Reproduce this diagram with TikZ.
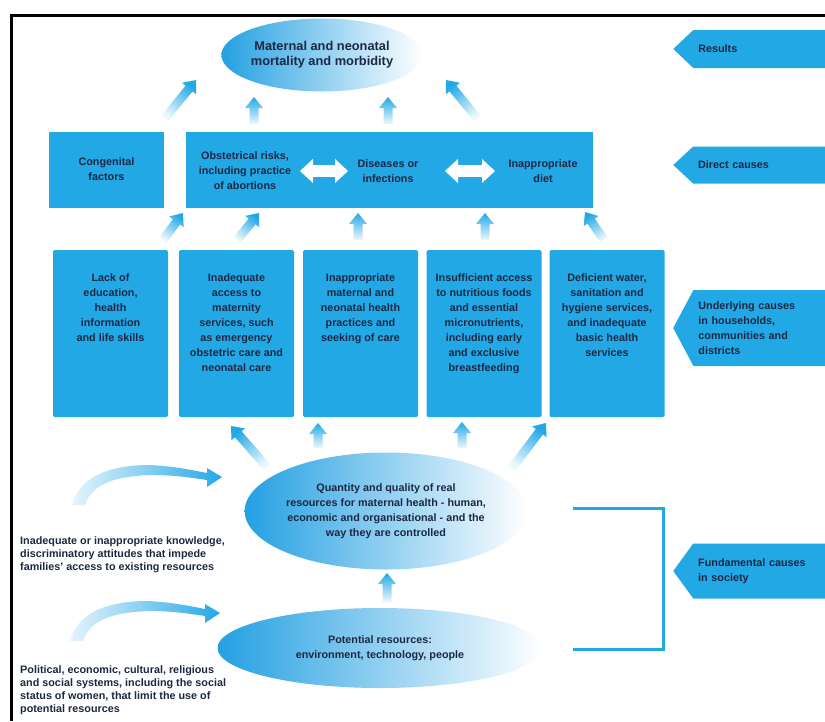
\documentclass[tikz,border=0pt]{standalone}
\usepackage{fontspec}
\setmainfont{Liberation Sans}
\usetikzlibrary{arrows.meta,calc,positioning,shapes.geometric,shapes.symbols}

\definecolor{boxblue}{RGB}{35,168,230}
\definecolor{ovalblue}{RGB}{36,160,226}
\definecolor{inkblue}{RGB}{28,40,68}
\colorlet{fadeblue}{boxblue!8!white}

\tikzset{
  txt/.style={font=\bfseries\fontsize{10.8}{15}\selectfont, text=inkblue, align=center, inner sep=0pt},
  causebox/.style={rectangle, fill=boxblue, rounded corners=1.5pt, minimum width=115, minimum height=167, inner sep=0pt},
  directbox/.style={rectangle, fill=boxblue, minimum height=76, inner sep=0pt},
  oval/.style={ellipse, txt, left color=ovalblue, middle color=ovalblue!60!white, right color=white},
  tag/.style={signal, signal to=west, fill=boxblue, txt, align=left, text width=125, inner xsep=5pt, inner ysep=0pt, anchor=west},
  note/.style={txt, align=left, anchor=north west, font=\bfseries\fontsize{10.8}{13.2}\selectfont},
  swap/.style={white, line width=12pt, {Triangle[length=13pt,width=24pt,line width=0pt]}-{Triangle[length=13pt,width=24pt,line width=0pt]}},
  bracket/.style={draw=boxblue, line width=3pt},
  bend arrow/.pic={
    \shade[left color=boxblue!12!white, right color=boxblue]
      (0,0) .. controls (8,-30) and (40,-40) .. (78,-40) .. controls (100,-39) and (120,-35) .. (135,-32)
      -- (135,-37) -- (150,-28) -- (135,-18) -- (135,-25)
      .. controls (115,-28) and (100,-30) .. (80,-30) .. controls (45,-29) and (20,-22) .. (13,0) -- cycle;
  }
}

% fat arrow fading from tail #1 to head #2
\newcommand\fatarrow[2]{%
  \pgfmathanglebetweenpoints{\pgfpointanchor{#1}{center}}{\pgfpointanchor{#2}{center}}%
  \pgfmathsetmacro\arrowturn{\pgfmathresult-90}%
  \coordinate (neck) at ($(#2)!11pt!(#1)$);
  \shade[top color=boxblue, bottom color=fadeblue, shading angle=\arrowturn]
    ($(#1)!4.5pt!90:(#2)$) -- ($(neck)!4.5pt!90:(#2)$) -- ($(neck)!9pt!90:(#2)$)
    -- (#2) -- ($(neck)!9pt!-90:(#2)$) -- ($(neck)!4.5pt!-90:(#2)$)
    -- ($(#1)!4.5pt!-90:(#2)$) -- cycle;
}

\begin{document}
\begin{tikzpicture}[x=1pt, y=-1pt]
  \useasboundingbox (0,0) rectangle (825,721);
  \draw[line width=3pt] (825,15) -- (11,15) -- (11,721);

  % results
  \node[oval, minimum width=181, minimum height=73, font=\bfseries\fontsize{12.8}{15}\selectfont] (mort) at (322,55) {Maternal and neonatal\\mortality and morbidity};

  % direct causes
  \node[directbox, txt, minimum width=115] (congen) at (106.5,169.5) {Congenital\\factors};
  \node[directbox, minimum width=407] (direct) at (389.5,170) {};
  \node[txt] (obst) at (245,171) {Obstetrical risks,\\including practice\\of abortions};
  \node[txt] (dis) at (388,171) {Diseases or\\infections};
  \node[txt] (diet) at (543,171) {Inappropriate\\diet};
  \draw[swap, shorten <=55pt, shorten >=40pt] (obst.center) -- (dis.center);
  \draw[swap, shorten <=57pt, shorten >=48pt] (dis.center) -- (diet.center);

  % underlying causes
  \node[causebox] (lack) at (110.5,333.5) {};
  \node[causebox] (access) at (236.5,333.5) {};
  \node[causebox] (practice) at (360.5,333.5) {};
  \node[causebox] (food) at (484,333.5) {};
  \node[causebox] (water) at (607,333.5) {};
  \node[txt, below=24pt of lack.north] (lackt) {Lack of\\education,\\health\\information\\and life skills};
  \node[txt, below=24pt of access.north] (accesst) {Inadequate\\access to\\maternity\\services, such\\as emergency\\obstetric care and\\neonatal care};
  \node[txt, below=24pt of practice.north] (practicet) {Inappropriate\\maternal and\\neonatal health\\practices and\\seeking of care};
  \node[txt, below=24pt of food.north] (foodt) {Insufficient access\\to nutritious foods\\and essential\\micronutrients,\\including early\\and exclusive\\breastfeeding};
  \node[txt, below=24pt of water.north] (watert) {Deficient water,\\sanitation and\\hygiene services,\\and inadequate\\basic health\\services};

  % fundamental causes
  \node[oval, minimum width=278, minimum height=117] (quant) at (386,511) {Quantity and quality of real\\resources for maternal health - human,\\economic and organisational - and the\\way they are controlled};
  \node[oval, minimum width=325, minimum height=80] (potent) at (380,648) {Potential resources:\\environment, technology, people};
  \node[note] (know) at (20,536) {Inadequate or inappropriate knowledge,\\discriminatory attitudes that impede\\families' access to existing resources};
  \node[note] (systems) at (20,665) {Political, economic, cultural, religious\\and social systems, including the social\\status of women, that limit the use of\\potential resources};
  \pic at (72,505) {bend arrow};
  \pic at (70,641) {bend arrow};
  \draw[bracket] (573,508) -- (663,508) -- (663,649) -- (573,649);

  % levels
  \node[tag, minimum height=38, signal pointer angle=87] (res) at (673,49) {Results};
  \node[tag, minimum height=37, signal pointer angle=86] (dirl) at (673,165) {Direct causes};
  \node[tag, minimum height=76, signal pointer angle=124] (undl) at (673,328) {Underlying causes\\in households,\\communities and\\districts};
  \node[tag, minimum height=55, signal pointer angle=108] (fundl) at (673,571) {Fundamental causes\\in society};

  % fat arrows
  \coordinate (r1) at (165,118); \coordinate (r1h) at (196,80);
  \coordinate (r2) at (254,124); \coordinate (r2h) at (254,97);
  \coordinate (r3) at (388,124); \coordinate (r3h) at (388,97);
  \coordinate (r4) at (477,118); \coordinate (r4h) at (446,80);
  \coordinate (d1) at (163,240); \coordinate (d1h) at (183,213);
  \coordinate (d2) at (237,240); \coordinate (d2h) at (259,213);
  \coordinate (d3) at (358,240); \coordinate (d3h) at (358,213);
  \coordinate (d4) at (485,240); \coordinate (d4h) at (485,213);
  \coordinate (d5) at (604,240); \coordinate (d5h) at (585,212);
  \coordinate (u1) at (267,467); \coordinate (u1h) at (231,426);
  \coordinate (u2) at (318,448); \coordinate (u2h) at (318,423);
  \coordinate (u3) at (462,448); \coordinate (u3h) at (462,422);
  \coordinate (u4) at (512,468); \coordinate (u4h) at (546,423);
  \coordinate (q1) at (387,602); \coordinate (q1h) at (387,573);
  \fatarrow{r1}{r1h} \fatarrow{r2}{r2h} \fatarrow{r3}{r3h} \fatarrow{r4}{r4h}
  \fatarrow{d1}{d1h} \fatarrow{d2}{d2h} \fatarrow{d3}{d3h} \fatarrow{d4}{d4h} \fatarrow{d5}{d5h}
  \fatarrow{u1}{u1h} \fatarrow{u2}{u2h} \fatarrow{u3}{u3h} \fatarrow{u4}{u4h}
  \fatarrow{q1}{q1h}
\end{tikzpicture}
\end{document}
